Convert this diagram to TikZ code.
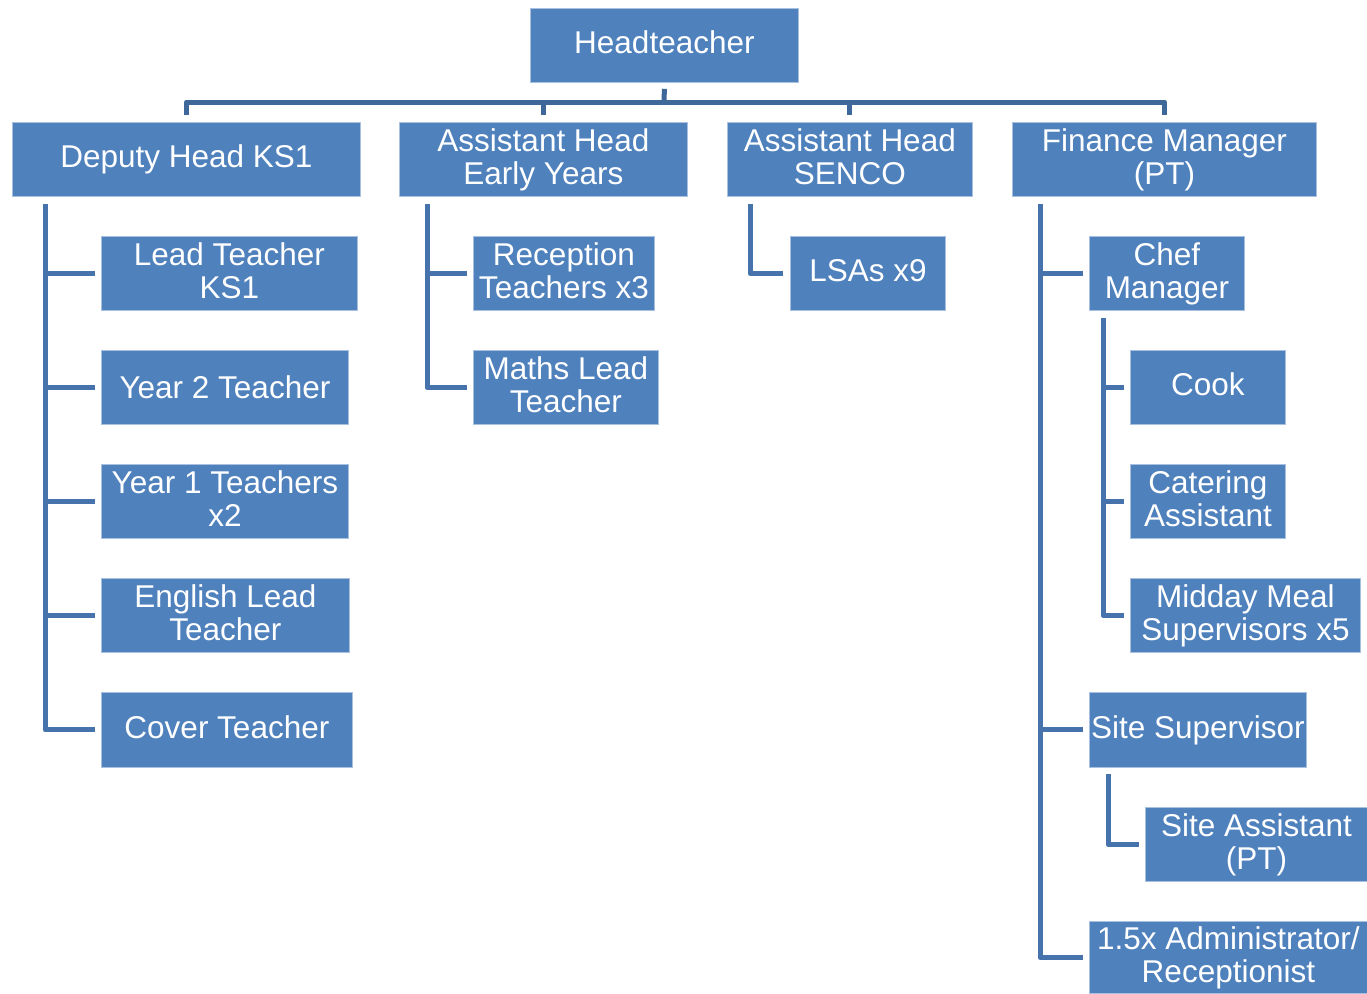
\documentclass[tikz,border=0pt]{standalone}
\usepackage{fontspec}
\setmainfont{Liberation Sans}
\usetikzlibrary{calc}
\definecolor{boxblue}{HTML}{4F81BD}
\definecolor{boxedge}{HTML}{A9C1E0}
\definecolor{linkblue}{HTML}{4673AB}
\definecolor{busblue}{HTML}{3E6899}
\begin{document}
\begin{tikzpicture}[x=1pt, y=-1pt,
  unit/.style={fill=boxblue, draw=boxedge, line width=0.8pt, text=white,
    inner sep=0pt, anchor=north west, align=center,
    font=\fontsize{31.5}{33}\selectfont},
  conn/.style={draw=linkblue, line width=5pt, line join=round},
  bus/.style={draw=busblue, line width=5pt, line join=round}]
\useasboundingbox[fill=white] (0,0) rectangle (1367,993);

% top level
\node[unit, minimum width=268pt, minimum height=74pt] (head) at (530,8) {Headteacher\vphantom{y}};

% second level
\node[unit, minimum width=348pt, minimum height=74pt] (dep) at (12,122) {Deputy Head KS1};
\node[unit, minimum width=288pt, minimum height=74pt] (eyh) at (399,122) {Assistant Head\\Early Years};
\node[unit, minimum width=245pt, minimum height=74pt] (sen) at (727,122) {Assistant Head\\SENCO\vphantom{y}};
\node[unit, minimum width=304pt, minimum height=74pt] (fin) at (1012,122) {Finance Manager\\(PT)};

% deputy head team
\node[unit, minimum width=256pt, minimum height=74pt] (lt)  at (101,236) {Lead Teacher\\KS1\vphantom{y}};
\node[unit, minimum width=247pt, minimum height=74pt] (y2)  at (101,350) {Year 2 Teacher};
\node[unit, minimum width=247pt, minimum height=74pt] (y1)  at (101,464) {Year 1 Teachers\\x2\vphantom{y}};
\node[unit, minimum width=248pt, minimum height=74pt] (eng) at (101,578) {English Lead\\Teacher\vphantom{y}};
\node[unit, minimum width=251pt, minimum height=75pt] (cov) at (101,692) {Cover Teacher\vphantom{y}};

% early years team
\node[unit, minimum width=181pt, minimum height=74pt] (rec) at (473,236) {Reception\\Teachers x3\vphantom{y}};
\node[unit, minimum width=185pt, minimum height=74pt] (mth) at (473,350) {Maths Lead\\Teacher\vphantom{y}};

% SENCO team
\node[unit, minimum width=155pt, minimum height=74pt] (lsa) at (790,236) {LSAs x9\vphantom{y}};

% finance team
\node[unit, minimum width=155pt, minimum height=74pt] (chef) at (1089,236) {Chef\\Manager};
\node[unit, minimum width=155pt, minimum height=74pt] (cook) at (1130,350) {Cook\vphantom{y}};
\node[unit, minimum width=155pt, minimum height=74pt] (cat)  at (1130,464) {Catering\\Assistant\vphantom{y}};
\node[unit, minimum width=230pt, minimum height=74pt] (mms)  at (1130,578) {Midday Meal\\Supervisors x5\vphantom{y}};
\node[unit, minimum width=217pt, minimum height=75pt] (site) at (1089,692) {Site Supervisor\vphantom{y}};
\node[unit, minimum width=222pt, minimum height=74pt] (sa)   at (1145,807) {Site Assistant\\(PT)};
\node[unit, minimum width=278pt, minimum height=72pt] (adm)  at (1089,921) {1.5x Administrator/\\Receptionist\vphantom{y}};

% bus from the headteacher
\coordinate (busmid) at (664,102);
\draw[bus] ([yshift=-6pt]head.south) -- (busmid);
\draw[bus] ([yshift=7pt]dep.north) |- (fin.north |- busmid) -- ([yshift=7pt]fin.north);
\draw[bus] ([yshift=7pt]eyh.north) -- (eyh.north |- busmid);
\draw[bus] ([yshift=7pt]sen.north) -- (sen.north |- busmid);

% deputy head branch
\coordinate (dv) at ([xshift=33pt,yshift=-7pt]dep.south west);
\draw[conn] (dv) |- ([xshift=-6pt]cov.west);
\foreach \n in {lt,y2,y1,eng} \draw[conn] (dv |- \n.west) -- ([xshift=-6pt]\n.west);

% early years branch
\coordinate (ev) at ([xshift=28pt,yshift=-7pt]eyh.south west);
\draw[conn] (ev) |- ([xshift=-6pt]mth.west);
\draw[conn] (ev |- rec.west) -- ([xshift=-6pt]rec.west);

% SENCO branch
\coordinate (sv) at ([xshift=23pt,yshift=-7pt]sen.south west);
\draw[conn] (sv) |- ([xshift=-7pt]lsa.west);

% finance branch
\coordinate (fv) at ([xshift=28pt,yshift=-7pt]fin.south west);
\draw[conn] (fv) |- ([xshift=-6pt]adm.west);
\foreach \n in {chef,site} \draw[conn] (fv |- \n.west) -- ([xshift=-6pt]\n.west);

% kitchen branch
\coordinate (cv) at ([xshift=14pt,yshift=-7pt]chef.south west);
\draw[conn] (cv) |- ([xshift=-6pt]mms.west);
\foreach \n in {cook,cat} \draw[conn] (cv |- \n.west) -- ([xshift=-6pt]\n.west);

% site branch
\coordinate (stv) at ([xshift=19pt,yshift=-6pt]site.south west);
\draw[conn] (stv) |- ([xshift=-6pt]sa.west);
\end{tikzpicture}
\end{document}
